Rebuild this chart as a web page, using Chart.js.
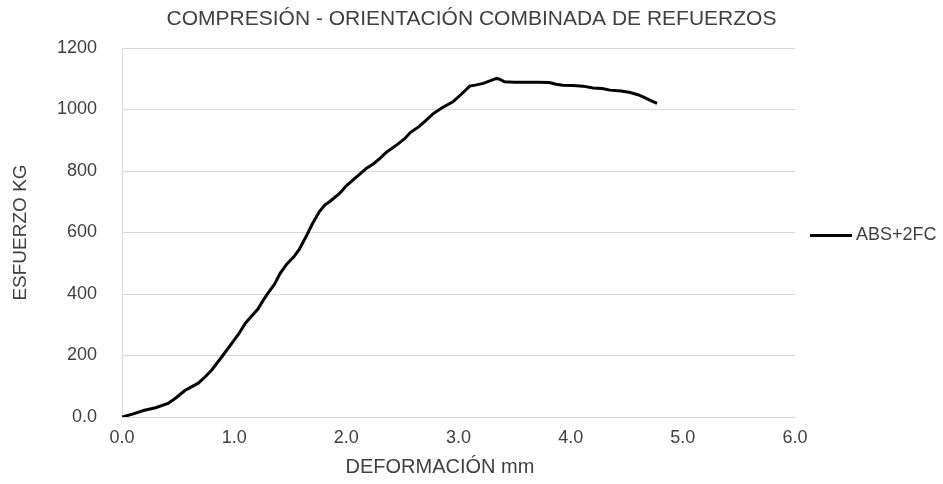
<!DOCTYPE html>
<html>
<head>
<meta charset="utf-8">
<script src="https://cdn.jsdelivr.net/npm/chart.js@4"></script>
<style>
  html, body { margin: 0; padding: 0; background: #fff; }
  #wrap { width: 943px; height: 484px; }
</style>
</head>
<body>
<div id="wrap"><canvas id="c" width="943" height="484"></canvas></div>
<script>
// Deformation (mm) readings
const deformacion = [
  0, 0.10, 0.20, 0.30, 0.41, 0.48, 0.56, 0.62, 0.68, 0.74,
  0.80, 0.89, 0.98, 1.04, 1.10, 1.16, 1.21, 1.26, 1.30, 1.36,
  1.41, 1.47, 1.53, 1.58, 1.64, 1.70, 1.76, 1.81, 1.85, 1.94,
  2.00, 2.06, 2.12, 2.18, 2.24, 2.30, 2.36, 2.45, 2.52, 2.57,
  2.65, 2.72, 2.77, 2.85, 2.95, 3.02, 3.10, 3.16, 3.22, 3.28,
  3.34, 3.37, 3.41, 3.50, 3.60, 3.70, 3.81, 3.87, 3.93, 4.02,
  4.11, 4.20, 4.28, 4.35, 4.45, 4.53, 4.60, 4.65, 4.72, 4.77
];
// Load (kg) at each deformation reading
const esfuerzo = [
  0, 10, 22, 30, 44, 62, 86, 98, 110, 130,
  153, 196, 240, 270, 305, 330, 350, 380, 402, 432,
  467, 498, 520, 545, 586, 630, 668, 690, 700, 727,
  752, 771, 790, 809, 823, 841, 862, 885, 905, 925,
  945, 968, 985, 1005, 1025, 1048, 1076, 1080, 1085, 1093,
  1101, 1098, 1090, 1089, 1089, 1089, 1088, 1082, 1079, 1078,
  1076, 1070, 1068, 1063, 1060, 1055, 1048, 1040, 1028, 1020
];
const serieNombre = 'ABS+2FC';
const titulo = 'COMPRESIÓN - ORIENTACIÓN COMBINADA DE REFUERZOS';
const tituloX = 'DEFORMACIÓN mm';
const tituloY = 'ESFUERZO KG';
const xTicks = [0, 1, 2, 3, 4, 5, 6];
const yTicks = [0, 200, 400, 600, 800, 1000, 1200];

const FONT = "'Liberation Sans', Arial, sans-serif";
const GREY = '#404040';

const puntos = deformacion.map((x, i) => ({ x, y: esfuerzo[i] }));

const whiteBg = {
  id: 'whiteBg',
  beforeDraw(chart) {
    const ctx = chart.ctx;
    ctx.save();
    ctx.fillStyle = '#fff';
    ctx.fillRect(0, 0, chart.width, chart.height);
    ctx.restore();
  }
};

// Title, x-axis title and legend entry
const extras = {
  id: 'extras',
  afterDraw(chart) {
    const ctx = chart.ctx;
    const ds = chart.data.datasets[0];
    ctx.save();
    ctx.fillStyle = GREY;
    ctx.textBaseline = 'middle';
    ctx.textAlign = 'center';
    ctx.font = '21px ' + FONT;
    ctx.fillText(titulo, chart.width / 2, 19);
    ctx.font = '20px ' + FONT;
    ctx.fillText(tituloX, 440, 467);
    // legend
    const ly = (chart.chartArea.top + chart.chartArea.bottom) / 2 + 3;
    ctx.strokeStyle = ds.borderColor;
    ctx.lineWidth = ds.borderWidth;
    ctx.beginPath();
    ctx.moveTo(810, ly);
    ctx.lineTo(852, ly);
    ctx.stroke();
    ctx.textAlign = 'left';
    ctx.font = '18px ' + FONT;
    ctx.fillText(ds.label, 856, ly);
    ctx.restore();
  }
};

new Chart(document.getElementById('c'), {
  type: 'scatter',
  data: {
    datasets: [{
      label: serieNombre,
      data: puntos,
      showLine: true,
      borderColor: '#000',
      backgroundColor: '#000',
      borderWidth: 3,
      pointRadius: 0,
      tension: 0
    }]
  },
  options: {
    responsive: false,
    animation: false,
    layout: { padding: { top: 48, right: 148, left: 0, bottom: 0 } },
    plugins: {
      legend: { display: false },
      title: { display: false },
      tooltip: { enabled: false }
    },
    scales: {
      x: {
        type: 'linear',
        min: 0,
        max: 6,
        afterBuildTicks(scale) { scale.ticks = xTicks.map(v => ({ value: v })); },
        afterFit(scale) { scale.height = 67; },
        grid: { display: false, drawTicks: false },
        border: { display: true, color: '#d9d9d9', width: 1 },
        ticks: {
          padding: 10,
          color: GREY,
          font: { family: FONT, size: 18 },
          callback: v => Number(v).toFixed(1)
        }
      },
      y: {
        type: 'linear',
        min: 0,
        max: 1200,
        afterBuildTicks(scale) { scale.ticks = yTicks.map(v => ({ value: v })); },
        afterFit(scale) { scale.width = 122; },
        grid: { color: '#d9d9d9', lineWidth: 1, drawTicks: false },
        border: { display: true, color: '#d9d9d9', width: 1 },
        title: {
          display: true,
          text: tituloY,
          color: GREY,
          font: { family: FONT, size: 19 },
          padding: { top: 9, bottom: 0 }
        },
        ticks: {
          padding: 25,
          color: GREY,
          font: { family: FONT, size: 18 },
          callback: v => (v === 0 ? '0.0' : String(v))
        }
      }
    }
  },
  plugins: [whiteBg, extras]
});
</script>
</body>
</html>
